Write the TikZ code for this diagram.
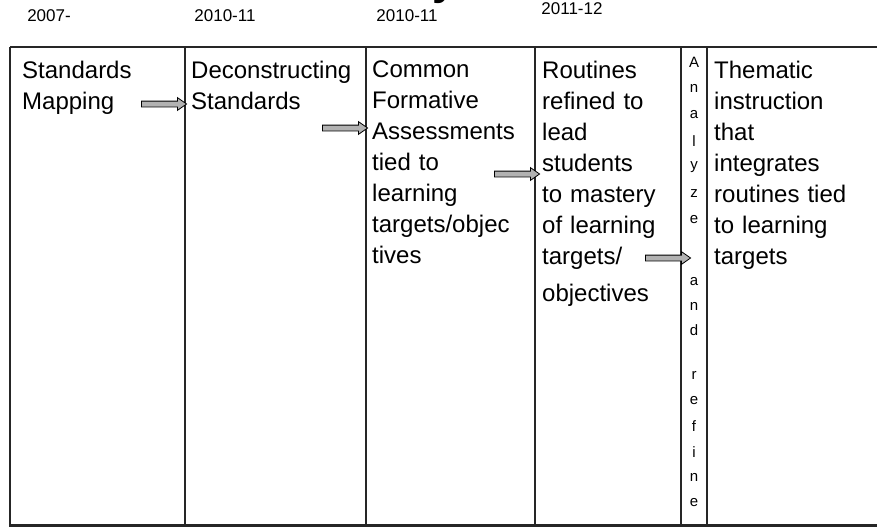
\documentclass[tikz,border=0pt]{standalone}
\usepackage{fontspec}
\setmainfont{Liberation Sans}
\usetikzlibrary{shapes.arrows}

\begin{document}
\begin{tikzpicture}[
            x=1pt, y=-1pt,
            rule/.style={draw=black!85, line width=2.4pt},
            cell/.style={
                anchor=north west,
                inner sep=0pt,
                align=left,
                text width=#1,
                font=\fontsize{24}{31}\selectfont
            },
            year/.style={font=\fontsize{17}{20}\selectfont},
            letter/.style={inner sep=0pt, font=\fontsize{15}{18}\selectfont},
            pointer/.style={
                single arrow,
                draw=black,
                fill=black!30,
                line width=0.8pt,
                minimum height=45pt,
                inner sep=0pt,
                single arrow head extend=3.5pt,
                single arrow tip angle=70
            }
        ]
            \useasboundingbox (0,0) rectangle (877,527);

            % Heading remnant and years
            \node[font=\fontsize{44}{44}\selectfont\bfseries, anchor=base] (tail) at (445,-5) {y};
            \node[year] (y2007) at (49,16) {2007-};
            \node[year] (y2010a) at (225,16) {2010-11};
            \node[year] (y2010b) at (407,16) {2010-11};
            \node[year] (y2011) at (572,9) {2011-12};

            % Table rules
            \draw[rule] (10,47) -- (877,47);
            \draw[rule] (10,525.5) -- (877,525.5);
            \foreach \x in {10,185,366,535,681,707}
                \draw[rule] (\x,47) -- (\x,527);

            % Cells
            \node[cell=160pt] (mapping) at (22,61) {Standards\\Mapping};
            \node[cell=175pt] (decon) at (191,61) {Deconstructing\\Standards};
            \node[cell=165pt] (cfa) at (372,61) {Common\\Formative\\Assessments\\tied to\\learning\\targets/objec\\tives};
            \node[cell=140pt] (routines) at (542,61) {Routines\\refined to\\lead\\students\\to mastery\\of learning\\targets/\\[6pt]objectives};
            \node[cell=165pt] (thematic) at (714,61) {Thematic\\instruction\\that\\integrates\\routines tied\\to learning\\targets};

            % Narrow column, one letter per line
            \foreach \c/\y [count=\i] in {A/62,n/88,a/115,l/141,y/167,z/194,e/220,
                    a/282,n/306,d/330,r/375,e/401,f/426,i/452,n/477,e/503}
                \node[letter] (az\i) at (694,\y) {\c};

            % Arrows
            \node[pointer] (a1) at (162,104) {\rule{0pt}{5pt}};
            \node[pointer] (a2) at (343,128) {\rule{0pt}{5pt}};
            \node[pointer] (a3) at (515,174) {\rule{0pt}{5pt}};
            \node[pointer] (a4) at (666,258) {\rule{0pt}{5pt}};
        \end{tikzpicture}
\end{document}
